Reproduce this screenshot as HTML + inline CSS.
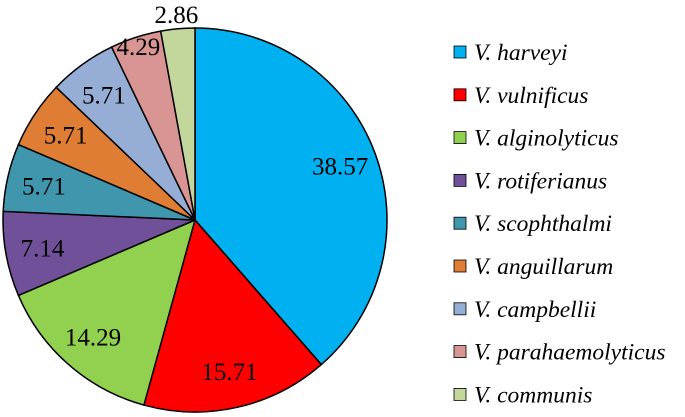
<!DOCTYPE html>
<html><head><meta charset="utf-8"><style>
html,body{margin:0;padding:0;background:#fff;}
svg{display:block;}
</style></head><body>
<svg id="chart" width="685" height="417" viewBox="0 0 685 417"></svg>
<script>
const categories=["V. harveyi","V. vulnificus","V. alginolyticus","V. rotiferianus","V. scophthalmi","V. anguillarum","V. campbellii","V. parahaemolyticus","V. communis"];
const values=[38.57,15.71,14.29,7.14,5.71,5.71,5.71,4.29,2.86];
const labels=["38.57","15.71","14.29","7.14","5.71","5.71","5.71","4.29","2.86"];
const colors=["#00B0F0","#FF0000","#92D050","#71509A","#4097AD","#E07D35","#96AED6","#D99594","#C3D69B"];
const svg=document.getElementById('chart');
const NS="http://www.w3.org/2000/svg";
const cx=195,cy=220,R=192;
const total=values.reduce((a,b)=>a+b,0);
function pt(frac,r){const a=frac*2*Math.PI;return [cx+r*Math.sin(a),cy-r*Math.cos(a)];}
let cum=0;
values.forEach((v,i)=>{
  const f0=cum/total,f1=(cum+v)/total;cum+=v;
  const [x0,y0]=pt(f0,R),[x1,y1]=pt(f1,R);
  const large=(f1-f0)>0.5?1:0;
  const p=document.createElementNS(NS,'path');
  p.setAttribute('d',`M${cx},${cy} L${x0},${y0} A${R},${R} 0 ${large} 1 ${x1},${y1} Z`);
  p.setAttribute('fill',colors[i]);p.setAttribute('stroke','#000');p.setAttribute('stroke-width','1.5');
  
  
  svg.appendChild(p);
  const rl=v<3?207:(v<5?183:155);
  const [lx,ly]=pt((f0+f1)/2,rl);
  const t=document.createElementNS(NS,'text');
  t.setAttribute('x',lx);t.setAttribute('y',ly+9);t.setAttribute('text-anchor','middle');
  t.setAttribute('font-family','"Liberation Serif", serif');t.setAttribute('font-size','25');
  t.textContent=labels[i];
  
  
  svg.appendChild(t);
});
categories.forEach((c,i)=>{
  const y=52+i*42.8;
  const g=document.createElementNS(NS,'g');
  
  
  const r=document.createElementNS(NS,'rect');
  r.setAttribute('x',454);r.setAttribute('y',y-6);r.setAttribute('width',12);r.setAttribute('height',12);
  r.setAttribute('fill',colors[i]);r.setAttribute('stroke','#000');r.setAttribute('stroke-width','0.8');
  g.appendChild(r);
  const t=document.createElementNS(NS,'text');
  t.setAttribute('x',474);t.setAttribute('y',y+8);
  t.setAttribute('font-family','"Liberation Serif", serif');t.setAttribute('font-size','23.5');t.setAttribute('font-style','italic');
  t.textContent=c;
  g.appendChild(t);
  svg.appendChild(g);
});
</script>
</body></html>
